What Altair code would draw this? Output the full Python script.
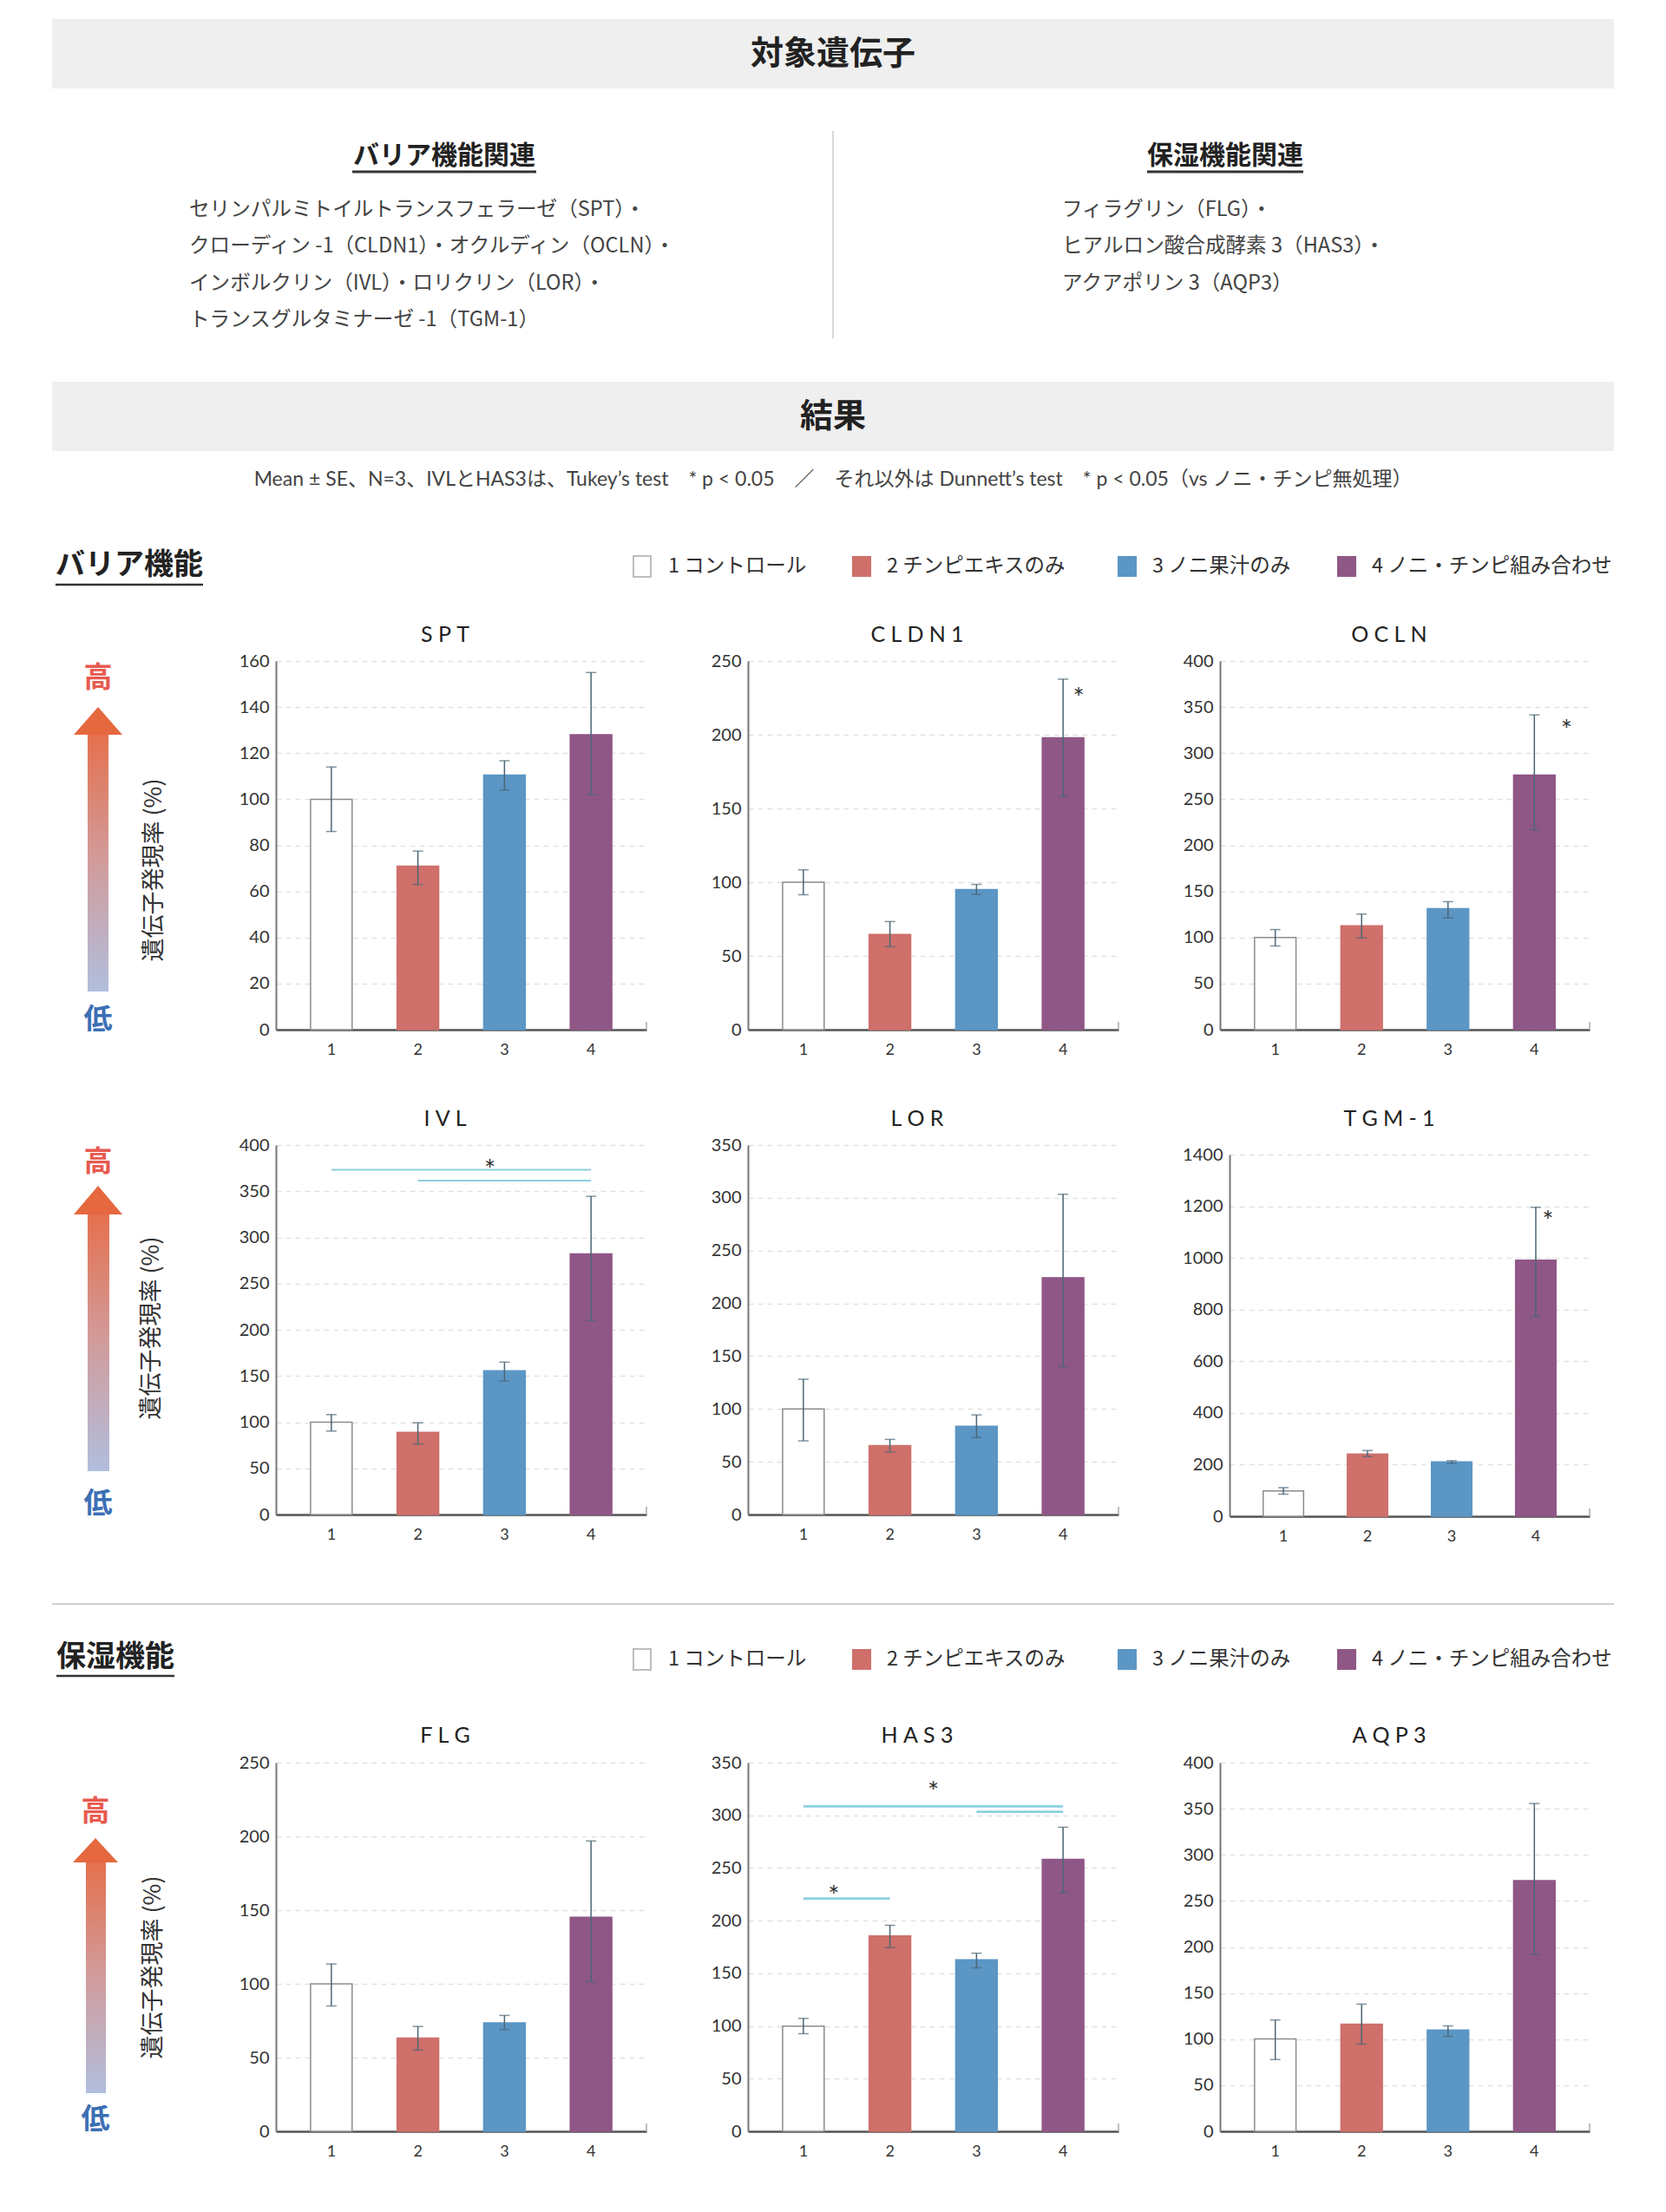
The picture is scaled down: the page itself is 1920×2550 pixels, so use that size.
import altair as alt
import pandas as pd

# ---------------- data ----------------
GROUPS = ["1", "2", "3", "4"]
GROUP_LABELS = ["1 コントロール", "2 チンピエキスのみ", "3 ノニ果汁のみ", "4 ノニ・チンピ組み合わせ"]
FILLS = ["#ffffff", "#CF706B", "#5B96C5", "#8F5786"]
STROKES = ["#8c8c8c", "#CF706B", "#5B96C5", "#8F5786"]

GENES = ["SPT", "CLDN1", "OCLN", "IVL", "LOR", "TGM-1", "FLG", "HAS3", "AQP3"]
Y_MAX = [160, 250, 400, 400, 350, 1400, 250, 350, 400]
Y_STEP = [20, 50, 50, 50, 50, 200, 50, 50, 50]

SPT_MEAN = [100, 71, 110.5, 128]
SPT_LO = [86, 63, 104, 102]
SPT_HI = [114, 77.5, 116.7, 155]

CLDN1_MEAN = [100, 64.5, 95, 198]
CLDN1_LO = [91.5, 56.3, 91.7, 158]
CLDN1_HI = [108.4, 73.3, 98.5, 237.7]

OCLN_MEAN = [100, 112.8, 131.2, 276.3]
OCLN_LO = [90.8, 99.5, 121.2, 216.8]
OCLN_HI = [108.6, 125.4, 138.9, 341.5]

IVL_MEAN = [100, 89, 155.6, 282.2]
IVL_LO = [90.4, 76.2, 144.6, 210.2]
IVL_HI = [108.2, 99.4, 165, 344.5]

LOR_MEAN = [100, 65.3, 83.6, 224.3]
LOR_LO = [69.8, 59.3, 72.9, 140.1]
LOR_HI = [128.2, 71.2, 94.4, 303.4]

TGM1_MEAN = [98.3, 240.7, 210.6, 991.6]
TGM1_LO = [85.6, 231.4, 204.8, 772.9]
TGM1_HI = [111, 254.5, 215.2, 1196]

FLG_MEAN = [100, 63.2, 73.5, 145.2]
FLG_LO = [85, 55.1, 69, 101.4]
FLG_HI = [113.5, 71.1, 78.6, 196.9]

HAS3_MEAN = [99.8, 185.5, 162.8, 258.1]
HAS3_LO = [92.7, 174.4, 155.2, 226.5]
HAS3_HI = [107.2, 195.6, 169.1, 288.7]

AQP3_MEAN = [100.2, 116.3, 109.9, 272]
AQP3_LO = [77.9, 94.7, 103, 192.2]
AQP3_HI = [120.8, 138, 114.4, 355.7]

# Dunnett stars: gene -> (group, value)
STAR_GENE = ["CLDN1", "OCLN", "TGM-1"]
STAR_GROUP = ["4", "4", "4"]
STAR_VALUE = [229, 331.5, 1166]

# Tukey brackets: gene, from-group, to-group, value
TUKEY_GENE = ["IVL", "IVL", "HAS3", "HAS3", "HAS3"]
TUKEY_FROM = ["1", "2", "1", "3", "1"]
TUKEY_TO = ["4", "4", "4", "4", "2"]
TUKEY_VALUE = [373.3, 361.4, 308.5, 303.4, 221]
TUKEY_STAR_GENE = ["IVL", "HAS3", "HAS3"]
TUKEY_STAR_GROUP = ["2", "2", "1"]
TUKEY_STAR_VALUE = [379.7, 327.7, 229.3]

HEADER_TITLE = "対象遺伝子"
RESULT_TITLE = "結果"
LEFT_HEAD = "バリア機能関連"
RIGHT_HEAD = "保湿機能関連"
LEFT_LINES = [
    "セリンパルミトイルトランスフェラーゼ（SPT）・",
    "クローディン -1（CLDN1）・オクルディン（OCLN）・",
    "インボルクリン（IVL）・ロリクリン（LOR）・",
    "トランスグルタミナーゼ -1（TGM-1）",
]
RIGHT_LINES = [
    "フィラグリン（FLG）・",
    "ヒアルロン酸合成酵素 3（HAS3）・",
    "アクアポリン 3（AQP3）",
]
NOTE = "Mean ± SE、N=3、IVLとHAS3は、Tukey’s test　* p < 0.05　／　それ以外は Dunnett’s test　* p < 0.05（vs ノニ・チンピ無処理）"
SECTION1 = "バリア機能"
SECTION2 = "保湿機能"
HIGH = "高"
LOW = "低"
YLABEL = "遺伝子発現率 (%)"

# ---------------- style ----------------
JP = "'Noto Sans CJK JP', sans-serif"
LAT = "Lato, 'Noto Sans CJK JP', sans-serif"
ERR = "#4B6676"
TUKEY_COLOR = "#8DD0E0"
DUMMY = pd.DataFrame({"k": [0]})


def text(s, x, y, size, color="#222", weight="normal", align="left", font=JP, angle=0):
    kw = dict(text=s, fontSize=size, color=color, fontWeight=weight, align=align,
              baseline="middle", font=font)
    if angle:
        kw["angle"] = angle
    return alt.Chart(DUMMY).mark_text(**kw).encode(x=alt.value(x), y=alt.value(y))


def rect(x, x2, y, y2, fill, stroke=None, sw=0):
    kw = dict(fill=fill)
    if stroke:
        kw["stroke"] = stroke
        kw["strokeWidth"] = sw
    return alt.Chart(DUMMY).mark_rect(**kw).encode(
        x=alt.value(x), x2=alt.value(x2), y=alt.value(y), y2=alt.value(y2))


def hline(x, x2, y, color, w):
    return alt.Chart(DUMMY).mark_rule(color=color, strokeWidth=w).encode(
        x=alt.value(x), x2=alt.value(x2), y=alt.value(y))


def vline(x, y, y2, color, w):
    return alt.Chart(DUMMY).mark_rule(color=color, strokeWidth=w).encode(
        x=alt.value(x), y=alt.value(y), y2=alt.value(y2))


def legend(yc):
    sq_x = [722, 974, 1280, 1533]
    layers = []
    for i in range(4):
        if i == 0:
            layers.append(rect(sq_x[i], sq_x[i] + 20, yc - 12, yc + 12, "#ffffff", "#bdbdbd", 2))
        else:
            layers.append(rect(sq_x[i], sq_x[i] + 22, yc - 12, yc + 12, FILLS[i]))
        layers.append(text(GROUP_LABELS[i], sq_x[i] + 40, yc, 23.5, "#333"))
    return layers


def arrow(cx, hi_y, tip_y, base_y, tri_w, sx1, sx2, shaft_bot, lo_y, lab_x, lab_y):
    grad = alt.LinearGradient(
        gradient="linear",
        stops=[alt.GradientStop(offset=0, color="#E5704E"),
               alt.GradientStop(offset=0.5, color="#D19C9C"),
               alt.GradientStop(offset=1, color="#B1BEDE")],
        x1=0, x2=0, y1=0, y2=1)
    h = base_y - tip_y
    half = tri_w / 2.0
    k = (h / 2.0) / half
    shape = f"M0,{-k:.3f}L1,{k:.3f}L-1,{k:.3f}Z"
    tri = alt.Chart(DUMMY).mark_point(shape=shape, size=tri_w * tri_w, filled=True,
                                      color="#E6683F", opacity=1).encode(
        x=alt.value(cx), y=alt.value((tip_y + base_y) / 2.0))
    shaft = alt.Chart(DUMMY).mark_rect(color=grad).encode(
        x=alt.value(sx1), x2=alt.value(sx2), y=alt.value(base_y - 1), y2=alt.value(shaft_bot))
    return [
        text(HIGH, cx, hi_y, 33, "#E85A4F", "bold", "center"),
        shaft, tri,
        text(LOW, cx, lo_y, 33, "#3C6FB4", "bold", "center"),
        text(YLABEL, lab_x, lab_y, 27, "#333", "normal", "center", JP, 270),
    ]


def spaced(s):
    return "\u2009\u2009".join(s)


def panel(idx, means, los, his, width, height, xoff=0, yoff=0, title_dy=-30, tukey_w=2):
    gene = GENES[idx]
    ymax = Y_MAX[idx]
    step = Y_STEP[idx]
    df = pd.DataFrame({"grp": GROUPS, "mean": means, "lo": los, "hi": his})
    xs = dict(domain=GROUPS, paddingInner=0.52, paddingOuter=0.4)
    if xoff:
        xs["range"] = [xoff, width]
    ys = dict(domain=[0, ymax], nice=False, zero=True)
    if yoff:
        ys["range"] = [height, yoff]
    yaxis_kw = dict(values=list(range(0, ymax + 1, step)), title=None, ticks=False,
                    domainColor="#777", domainWidth=2, grid=True, gridColor="#e2e2e2",
                    gridDash=[6, 5], gridWidth=1.3, labelFontSize=20, labelPadding=8,
                    labelColor="#333", labelFont=LAT, format="d")
    if xoff:
        yaxis_kw["offset"] = -xoff
    xaxis = alt.Axis(title=None, ticks=False, labelAngle=0, domainColor="#555",
                     domainWidth=2.5, labelFontSize=18, labelPadding=14, labelColor="#333",
                     grid=False, labelFont=LAT)
    yaxis = alt.Axis(**yaxis_kw)

    def X():
        return alt.X("grp:N", scale=alt.Scale(**xs), axis=xaxis)

    def Y(f):
        return alt.Y(f"{f}:Q", scale=alt.Scale(**ys), axis=yaxis)

    base = alt.Chart(df)
    bars = base.mark_bar(strokeWidth=1.5).encode(
        x=X(), y=Y("mean"),
        fill=alt.Fill("grp:N", scale=alt.Scale(domain=GROUPS, range=FILLS), legend=None),
        stroke=alt.Stroke("grp:N", scale=alt.Scale(domain=GROUPS, range=STROKES), legend=None))
    err = base.mark_rule(color=ERR, strokeWidth=1.5).encode(x=X(), y=Y("lo"), y2="hi:Q")
    cap_lo = base.mark_tick(color=ERR, thickness=1.5, size=12).encode(x=X(), y=Y("lo"))
    cap_hi = base.mark_tick(color=ERR, thickness=1.5, size=12).encode(x=X(), y=Y("hi"))
    ttl = text(spaced(gene), 195, title_dy, 25, "#222", "normal", "center", LAT)
    end_tick = vline(width, height - 9, height, "#aaaaaa", 1.5)
    layers = [bars, err, cap_lo, cap_hi, ttl, end_tick]

    rows = []
    for j, g in enumerate(TUKEY_GENE):
        if g == gene:
            rows.append({"line": j, "grp": TUKEY_FROM[j], "y": TUKEY_VALUE[j]})
            rows.append({"line": j, "grp": TUKEY_TO[j], "y": TUKEY_VALUE[j]})
    if rows:
        layers.append(alt.Chart(pd.DataFrame(rows)).mark_line(
            color=TUKEY_COLOR, strokeWidth=tukey_w).encode(x=X(), y=Y("y"), detail="line:N"))
    tstar_dx = {("IVL", 0): 83, ("HAS3", 1): 50, ("HAS3", 2): 35}
    for j, g in enumerate(TUKEY_STAR_GENE):
        if g == gene:
            dx = tstar_dx[(g, j)]
            layers.append(alt.Chart(pd.DataFrame({"grp": [TUKEY_STAR_GROUP[j]],
                                                  "y": [TUKEY_STAR_VALUE[j]]}))
                          .mark_text(text="*", fontSize=31, color="#333", dx=dx, dy=8,
                                     font=LAT)
                          .encode(x=X(), y=Y("y")))
    dstar_dx = {"CLDN1": 18, "OCLN": 37, "TGM-1": 14}
    for j, g in enumerate(STAR_GENE):
        if g == gene:
            layers.append(alt.Chart(pd.DataFrame({"grp": [STAR_GROUP[j]],
                                                  "y": [STAR_VALUE[j]]}))
                          .mark_text(text="*", fontSize=31, color="#333", dx=dstar_dx[g],
                                     dy=8, font=LAT)
                          .encode(x=X(), y=Y("y")))
    return alt.layer(*layers).properties(width=width, height=height)


def blank():
    return alt.Chart(DUMMY).mark_point(opacity=0).encode(
        x=alt.value(20), y=alt.value(20)).properties(width=1, height=1)


# ---------------- top canvas (drawn from column 0, overflowing to the right) ----------------
top_layers = [
    rect(52, 1852, 14, 94, "#efefef"),
    text(HEADER_TITLE, 952, 55, 38, "#222", "bold", "center"),
    vline(952, 143, 382, "#cccccc", 1.5),
    text(LEFT_HEAD, 504, 172, 30, "#222", "bold", "center"),
    hline(398, 610, 190, "#333", 3),
    text(RIGHT_HEAD, 1404, 172, 30, "#222", "bold", "center"),
    hline(1314, 1494, 190, "#333", 3),
]
for i, s in enumerate(LEFT_LINES):
    top_layers.append(text(s, 210, 234 + 42.3 * i, 23.6, "#444"))
for i, s in enumerate(RIGHT_LINES):
    top_layers.append(text(s, 1216, 234 + 42.3 * i, 23.6, "#444"))
top_layers += [
    rect(52, 1852, 432, 512, "#efefef"),
    text(RESULT_TITLE, 952, 473, 38, "#222", "bold", "center"),
    text(NOTE, 952, 545, 23, "#444", "normal", "center", LAT),
    text(SECTION1, 56, 644, 34, "#222", "bold"),
    hline(56, 226, 666, "#333", 2.5),
]
top_layers += legend(645)
top = alt.layer(*top_layers).properties(width=193, height=754)

# ---------------- row canvases ----------------
c1 = alt.layer(*arrow(105, 20, 53, 85, 56, 93, 117, 381, 414, 170, 241)).properties(
    width=193, height=558)

c2_layers = arrow(105, 20, 47, 80, 56, 93, 118, 376, 414, 167, 211)
c2_layers += [
    hline(52, 1852, 529, "#d0d0d0", 2),
    text(SECTION2, 57, 591, 34, "#222", "bold"),
    hline(57, 193, 612, "#333", 2.5),
]
c2_layers += legend(593)
c2 = alt.layer(*c2_layers).properties(width=193, height=712)

c3 = alt.layer(*arrow(102, 57, 87, 115, 52, 91, 114, 381, 412, 169, 236)).properties(
    width=193, height=480)

cells = [
    top, blank(), blank(), blank(),
    c1,
    panel(0, SPT_MEAN, SPT_LO, SPT_HI, 427, 425),
    panel(1, CLDN1_MEAN, CLDN1_LO, CLDN1_HI, 427, 425),
    panel(2, OCLN_MEAN, OCLN_LO, OCLN_HI, 426, 425),
    c2,
    panel(3, IVL_MEAN, IVL_LO, IVL_HI, 427, 426),
    panel(4, LOR_MEAN, LOR_LO, LOR_HI, 427, 426),
    panel(5, TGM1_MEAN, TGM1_LO, TGM1_HI, 426, 428, xoff=11, yoff=11),
    c3,
    panel(6, FLG_MEAN, FLG_LO, FLG_HI, 427, 425, title_dy=-31),
    panel(7, HAS3_MEAN, HAS3_LO, HAS3_HI, 427, 425, title_dy=-31, tukey_w=2.6),
    panel(8, AQP3_MEAN, AQP3_LO, AQP3_HI, 426, 425, title_dy=-31),
]

chart = alt.ConcatChart(concat=cells, columns=4, spacing={"row": 0, "column": 117},
                        bounds="flush")
chart = chart.properties(padding=0).configure_view(stroke=None)

chart.save("out.html", embed_options={"renderer": "svg", "actions": False})
